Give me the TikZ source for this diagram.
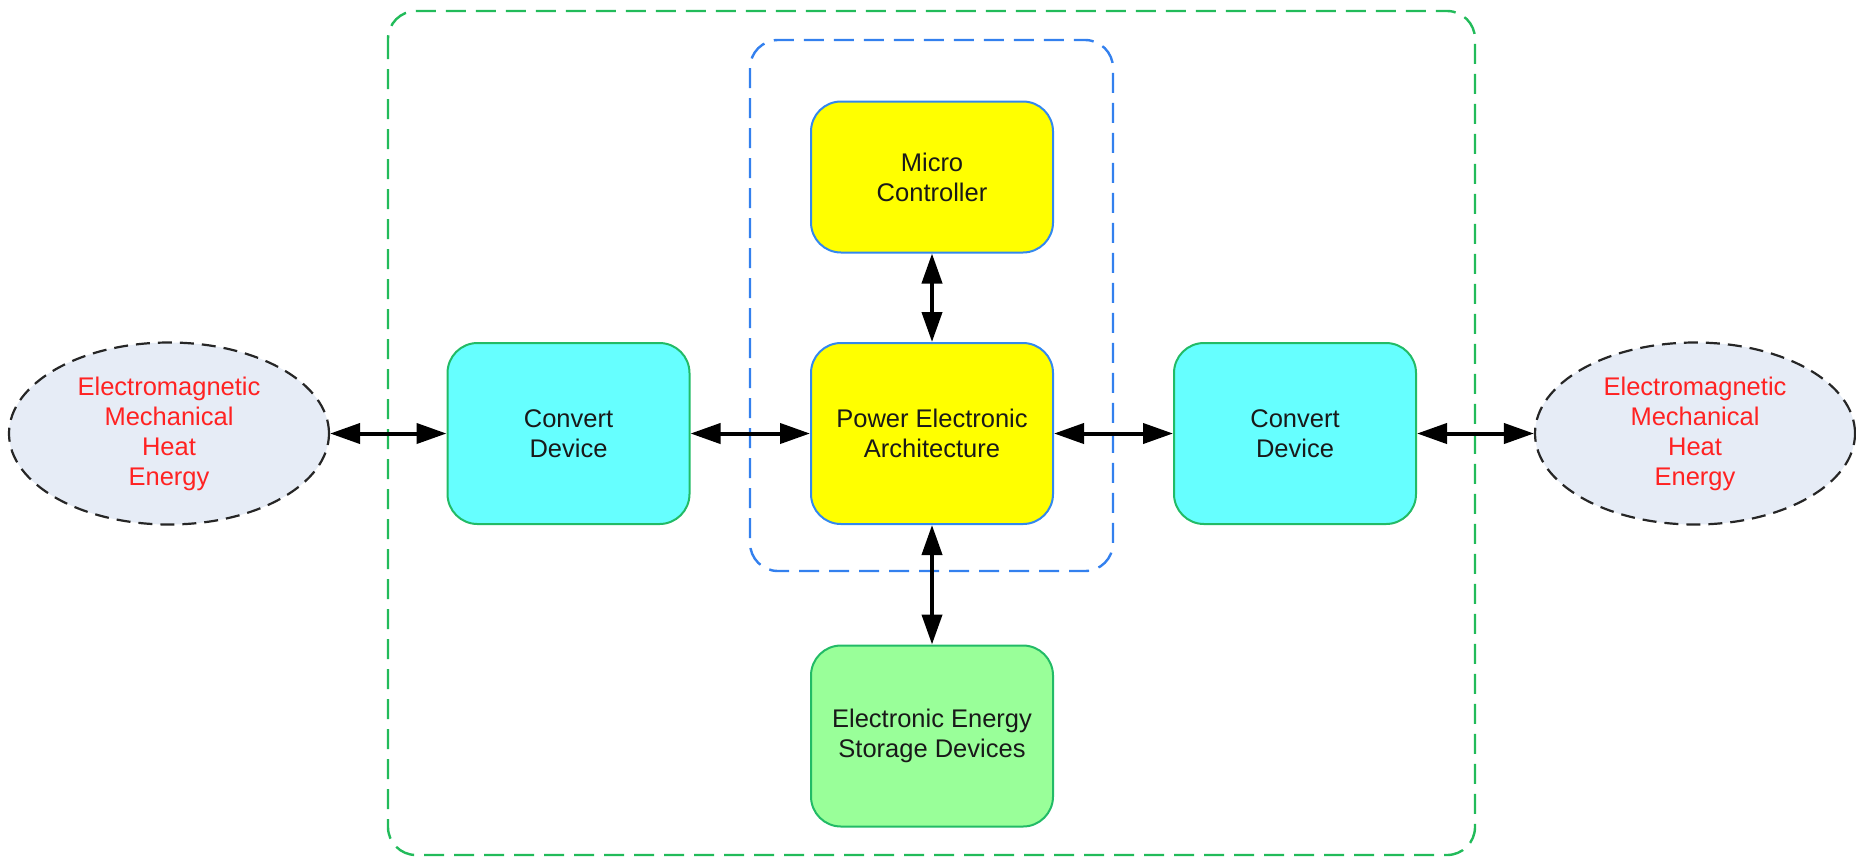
\documentclass[tikz,border=0pt]{standalone}
\usepackage{fontspec}
\setmainfont{Liberation Sans}
\usetikzlibrary{shapes.geometric,arrows.meta}
\definecolor{outergreen}{HTML}{22BB5A}
\definecolor{innerblue}{HTML}{3380EE}
\definecolor{boxblue}{HTML}{3388EE}
\definecolor{boxgreen}{HTML}{22BB66}
\definecolor{yel}{HTML}{FFFF00}
\definecolor{cyanfill}{HTML}{66FFFF}
\definecolor{greenfill}{HTML}{99FF99}
\definecolor{ellfill}{HTML}{E6ECF6}
\definecolor{redtext}{HTML}{FF2222}
\begin{document}
\begin{tikzpicture}[x=0.5pt,y=-0.5pt,
  txt/.style={align=center, font=\fontsize{12.75}{15}\selectfont},
  box/.style={txt, draw, line width=1pt, rounded corners=15pt, minimum width=121pt, minimum height=90.5pt, inner sep=0pt, text=black!90},
  ctrlbox/.style={box, draw=boxblue, fill=yel},
  convbox/.style={box, draw=boxgreen, fill=cyanfill},
  storebox/.style={box, draw=boxgreen, fill=greenfill},
  energy/.style={txt, ellipse, draw=black!85, dash pattern=on 7pt off 4pt, line width=1.1pt, fill=ellfill, text=redtext, minimum width=160pt, minimum height=91pt, inner sep=0pt},
  arr/.style={{Triangle[length=15pt,width=10pt]}-{Triangle[length=15pt,width=10pt]}, line width=2pt, black},
  region/.style={dash pattern=on 10pt off 5pt, line width=1.2pt, rounded corners=14pt}
]
\useasboundingbox (0,0) rectangle (1856,858);
\draw[region, draw=outergreen] (388,11) rectangle (1475,855);
\draw[region, draw=innerblue] (750,40) rectangle (1113,571);

\node[ctrlbox, minimum height=75.5pt] (mc) at (932,177) {Micro\\Controller};
\node[ctrlbox] (pea) at (932,433.5) {Power Electronic\\Architecture};
\node[storebox] (ees) at (932,736) {Electronic Energy\\Storage Devices};
\node[convbox] (cdl) at (568.5,433.5) {Convert\\Device};
\node[convbox] (cdr) at (1295,433.5) {Convert\\Device};
\node[energy] (enl) at (169,433.5) {Electromagnetic\\Mechanical\\Heat\\Energy};
\node[energy] (enr) at (1695,433.5) {Electromagnetic\\Mechanical\\Heat\\Energy};

\draw[arr] (enl.east) -- (cdl.west);
\draw[arr] (cdl.east) -- (pea.west);
\draw[arr] (pea.east) -- (cdr.west);
\draw[arr] (cdr.east) -- (enr.west);
\draw[arr] (mc.south) -- (pea.north);
\draw[arr] (pea.south) -- (ees.north);
\end{tikzpicture}
\end{document}
